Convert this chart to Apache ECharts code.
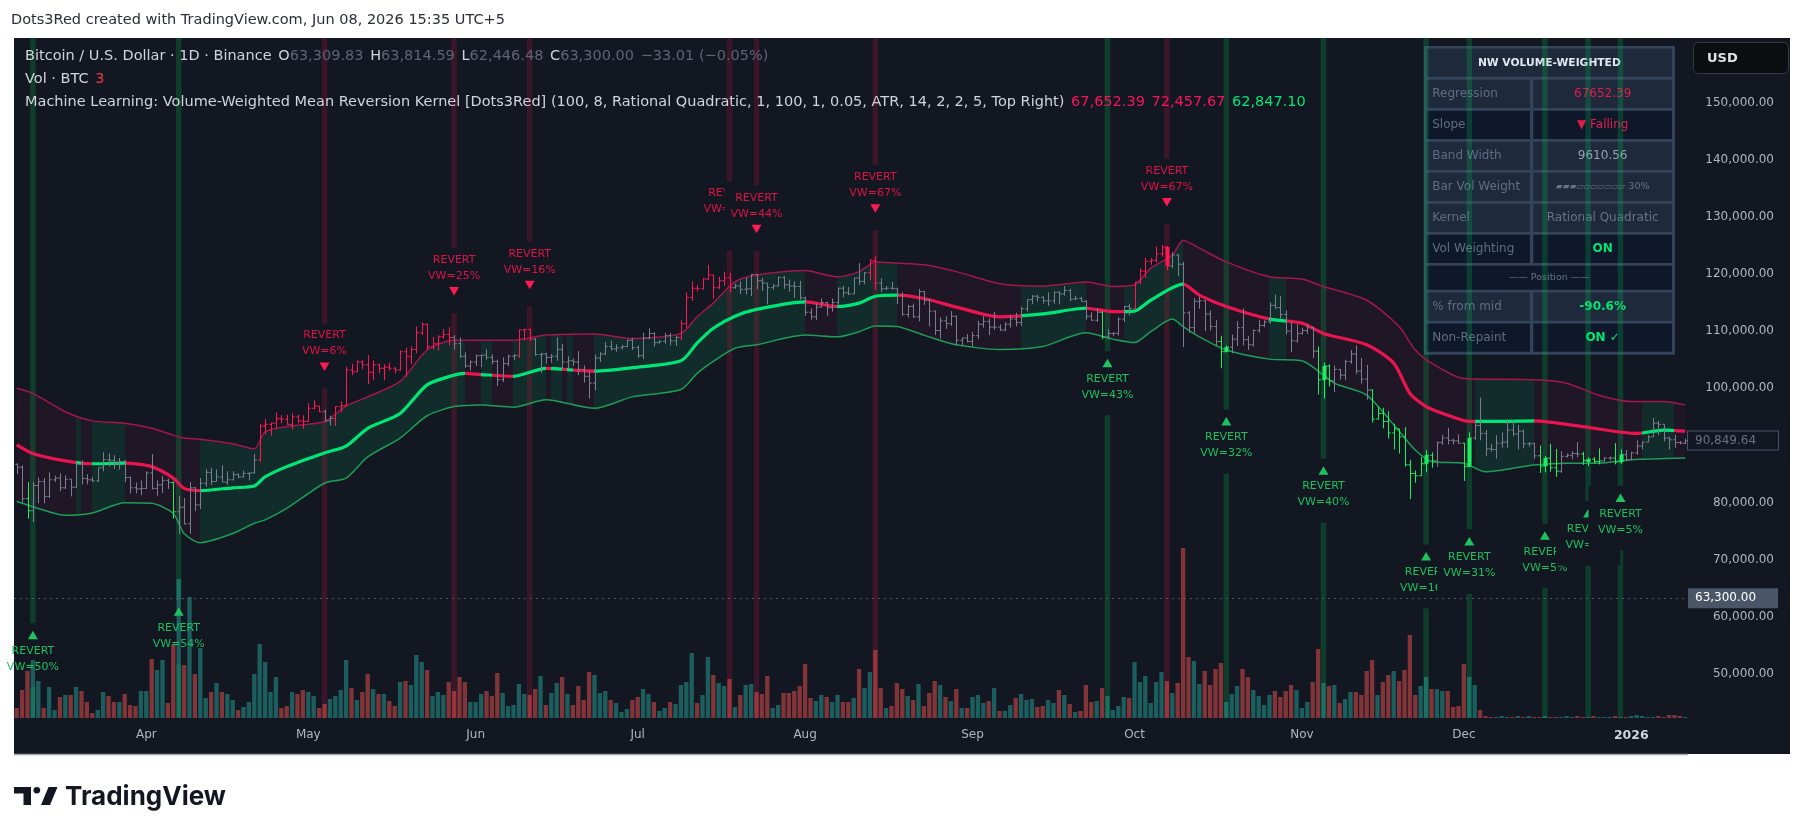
<!DOCTYPE html>
<html><head><meta charset="utf-8">
<script src="https://cdn.jsdelivr.net/npm/echarts@6/dist/echarts.min.js"></script>
<style>
html,body{margin:0;padding:0;background:#ffffff;overflow:hidden;}
#panel{position:absolute;left:14px;top:38px;width:1776px;height:716px;background:#131722;}
#chart{position:absolute;left:0;top:0;width:1804px;height:836px;}
</style></head><body>
<div id="panel"></div><div id="chart"></div>
<script>
// ---------------- DATA (prices in thousands of USD) ----------------
const ohlc = [
[86.7,86.9,85.0,86.2],[86.2,86.5,80.0,80.7],[80.7,83.6,77.2,78.6],[78.6,83.6,76.6,83.0],[83.0,84.4,79.9,83.7],
[83.7,84.3,79.9,81.1],[81.1,85.3,80.8,84.0],[84.0,84.7,83.6,84.3],[84.3,85.1,82.0,82.6],[82.6,84.8,82.4,84.1],
[84.1,84.1,81.1,82.7],[82.7,87.0,82.6,86.8],[86.8,87.4,83.2,84.2],[84.2,85.0,83.2,84.0],[84.0,84.5,83.6,83.8],
[83.8,86.1,83.6,86.1],[86.1,88.8,85.5,87.5],[87.5,88.6,86.3,87.4],[87.4,88.3,85.9,86.9],[86.9,87.8,85.8,87.2],
[87.2,87.5,83.6,84.4],[84.4,84.6,81.6,82.6],[82.6,83.5,81.6,82.4],[82.4,83.9,81.3,82.5],
[82.5,85.5,82.4,85.2],[85.2,88.5,82.3,82.5],[82.5,83.9,81.2,83.1],[83.1,84.7,81.7,83.9],[83.9,84.2,82.4,83.5],
[83.5,83.7,77.2,78.4],[78.4,81.2,74.5,79.2],[79.2,80.8,76.2,76.3],[76.3,83.6,74.6,82.6],[82.6,82.7,78.5,79.6],
[79.6,84.3,78.9,83.4],[83.4,85.9,82.8,85.3],[85.3,86.1,83.1,83.7],[83.7,85.8,83.7,84.5],[84.5,86.5,83.6,83.6],
[83.6,85.5,83.1,84.0],[84.0,85.5,83.9,84.9],[84.9,85.1,84.3,84.5],[84.5,85.6,84.4,85.1],[85.1,85.3,83.9,85.2],
[85.2,88.5,85.1,87.5],[87.5,93.8,87.1,93.4],[93.4,94.7,91.9,93.7],[93.7,94.0,91.7,93.9],[93.9,95.8,92.9,94.7],
[94.7,95.3,93.9,94.6],[94.6,95.4,93.6,93.7],[93.7,95.6,92.8,95.0],[95.0,95.4,93.9,94.3],[94.3,95.3,92.9,94.2],
[94.2,97.4,94.1,96.5],[96.5,97.9,96.3,96.9],[96.9,96.9,95.8,95.9],[95.9,96.3,94.1,94.3],[94.3,95.2,93.5,94.7],
[94.7,96.9,93.4,96.8],[96.8,97.7,95.8,97.0],[97.0,103.8,96.9,103.2],[103.2,104.3,102.3,102.9],[102.9,104.9,102.8,104.6],
[104.6,104.9,103.3,104.1],[104.1,105.8,100.7,102.8],[102.8,104.9,101.4,104.1],[104.1,104.3,102.6,103.5],[103.5,104.2,101.4,103.7],
[103.7,104.5,103.1,103.5],[103.5,103.7,102.6,103.2],[103.2,106.6,103.1,106.4],[106.4,107.1,102.0,105.6],[105.6,107.3,104.2,106.8],
[106.8,110.8,106.1,109.7],[109.7,111.5,109.3,111.2],[111.2,111.3,106.7,107.3],[107.3,109.0,106.8,107.8],[107.8,109.3,106.6,109.0],
[109.0,110.4,108.7,109.4],[109.4,110.7,107.5,108.9],[108.9,109.3,106.8,107.8],[107.8,108.9,105.3,105.6],[105.6,106.3,103.6,103.9],
[103.9,104.9,103.1,104.6],
[104.6,105.9,103.9,105.7],[105.7,105.9,103.7,105.8],[105.8,106.8,105.0,105.4],[105.4,105.9,104.2,104.7],[104.7,105.0,100.4,101.5],
[101.5,105.4,101.1,104.3],[104.3,105.9,103.9,105.6],[105.6,106.0,104.9,105.7],[105.7,110.3,105.3,110.2],[110.2,110.4,108.4,110.3],
[110.3,110.4,108.3,108.6],[108.6,108.8,105.7,105.9],[105.9,106.2,102.7,106.0],[106.0,106.2,104.3,105.4],[105.4,106.0,104.5,105.6],
[105.6,108.9,104.8,106.8],[106.8,107.8,103.4,104.6],[104.6,105.6,103.5,104.8],[104.8,105.2,103.9,104.6],[104.6,106.5,102.3,103.3],
[103.3,104.0,101.0,102.1],[102.1,103.0,98.2,100.9],[100.9,105.9,99.6,105.3],[105.3,106.3,104.6,106.0],[106.0,108.1,105.8,107.3],
[107.3,108.3,106.6,106.9],[106.9,107.7,106.4,107.1],[107.1,107.6,106.8,107.3],[107.3,108.5,107.2,108.4],[108.4,108.8,106.7,107.1],
[107.1,107.5,105.3,105.7],[105.7,109.7,105.1,108.8],[108.8,110.5,108.6,109.6],[109.6,109.8,107.3,108.0],[108.0,108.4,107.8,108.2],
[108.2,109.7,107.8,109.2],[109.2,109.7,107.5,108.3],[108.3,109.2,107.4,108.9],[108.9,111.9,108.4,111.3],[111.3,116.8,110.6,115.9],
[115.9,118.7,115.3,117.5],[117.5,118.0,116.9,117.4],[117.4,119.3,117.3,119.1],[119.1,121.6,118.9,119.8],[119.8,119.9,115.7,117.6],
[117.6,119.5,117.3,118.8],[118.8,120.4,117.9,119.3],[119.3,120.2,116.8,117.6],[117.6,118.3,117.4,117.9],[117.9,118.7,116.5,117.3],
[117.3,119.4,116.4,117.4],[117.4,120.0,116.1,119.9],[119.9,120.0,117.3,118.8],[118.8,119.3,117.0,118.4],[118.4,118.4,114.7,117.6],
[117.6,118.2,117.2,117.9],[117.9,119.5,117.8,119.4],[119.4,119.6,117.4,118.1],[118.1,119.0,116.9,117.9],[117.9,118.7,115.8,117.8],
[117.8,118.8,115.5,115.8],
[115.8,116.0,112.7,113.3],[113.3,114.0,112.0,112.5],[112.5,114.8,111.9,114.2],[114.2,115.7,114.1,115.0],[115.0,115.1,112.7,114.1],
[114.1,115.7,113.4,115.0],[115.0,117.6,114.3,117.5],[117.5,117.9,115.9,116.7],[116.7,117.7,116.3,116.5],[116.5,119.3,116.5,119.3],
[119.3,121.9,118.1,118.7],[118.7,120.3,118.2,120.2],[120.2,122.6,118.9,122.3],[122.3,123.1,117.2,118.4],[118.4,119.2,116.8,117.4],
[117.4,117.9,117.2,117.5],[117.5,118.6,117.3,117.4],[117.4,117.6,114.7,116.3],[116.3,116.8,112.7,112.9],[112.9,114.6,112.4,114.3],
[114.3,114.8,112.3,112.5],[112.5,117.4,111.7,116.9],[116.9,117.0,114.6,115.4],[115.4,115.7,110.8,113.5],[113.5,113.6,109.3,110.1],
[110.1,112.4,108.7,111.8],[111.8,112.6,110.4,111.3],[111.3,113.5,110.9,112.6],[112.6,112.7,107.5,108.4],[108.4,108.9,107.4,108.8],
[108.8,109.5,108.0,108.2],
[108.2,109.9,107.3,109.2],[109.2,111.8,108.6,111.2],[111.2,112.6,110.6,111.7],[111.7,112.2,109.3,110.7],[110.7,113.4,110.2,110.7],
[110.7,111.2,110.0,110.2],[110.2,111.6,110.0,111.2],[111.2,112.9,110.6,112.1],[112.1,113.2,110.8,111.5],[111.5,114.3,110.9,113.9],
[113.9,115.5,113.4,115.5],[115.5,116.3,114.7,116.1],[116.1,116.4,115.2,115.9],[115.9,116.1,114.8,115.3],[115.3,116.8,114.4,115.3],
[115.3,116.9,114.8,116.8],[116.8,117.0,114.7,116.5],[116.5,117.9,116.2,117.1],[117.1,117.4,115.2,115.6],[115.6,116.2,115.4,115.7],
[115.7,116.0,115.2,115.2],[115.2,115.4,112.0,112.6],[112.6,113.3,111.8,111.9],[111.9,113.9,111.6,113.3],[113.3,113.4,108.6,109.0],
[109.0,110.3,108.6,109.6],[109.6,109.8,109.1,109.6],[109.6,112.4,109.2,112.1],[112.1,114.4,111.6,114.3],[114.3,114.8,112.7,114.0],
[114.0,118.6,113.8,118.6],[118.6,121.0,118.2,120.5],[120.5,122.8,119.3,122.2],[122.2,122.8,121.6,122.4],[122.4,124.8,122.0,123.5],
[123.5,125.1,123.0,124.7],[124.7,124.9,120.6,121.4],[121.4,123.8,121.0,123.3],[123.3,123.5,119.6,121.7],[121.7,122.1,107.2,113.2],
[113.2,113.5,109.7,110.6],[110.6,115.8,109.6,115.2],[115.2,116.0,113.9,115.3],[115.3,115.4,110.0,113.0],[113.0,113.6,110.1,110.8],
[110.8,111.9,107.5,108.2],[108.2,109.2,103.5,106.4],[106.4,107.5,106.3,107.2],[107.2,109.4,106.1,108.6],[108.6,111.7,107.4,110.6],
[110.6,114.0,107.5,108.5],[108.5,109.1,106.7,107.6],[107.6,110.3,107.3,110.1],[110.1,112.0,109.7,111.0],[111.0,111.9,110.7,111.6],
[111.6,115.0,111.3,114.5],[114.5,116.4,113.9,114.1],[114.1,116.1,112.2,112.9],[112.9,113.6,109.4,110.0],[110.0,111.6,106.3,108.3],
[108.3,111.2,108.0,109.6],
[109.6,110.6,109.4,110.1],[110.1,111.2,109.5,110.6],[110.6,110.8,105.3,106.5],[106.5,107.3,98.9,101.5],[101.5,104.5,98.2,103.9],
[103.9,104.2,100.3,101.3],[101.3,104.0,99.3,103.3],[103.3,103.4,101.5,102.3],[102.3,105.0,101.4,104.7],[104.7,106.7,104.3,106.0],
[106.0,107.5,102.5,103.0],[103.0,105.3,100.8,101.6],[101.6,104.1,98.0,99.7],[99.7,99.8,94.0,94.6],[94.6,96.8,94.6,95.6],
[95.6,96.6,93.0,94.2],[94.2,96.0,91.2,92.2],[92.2,93.8,89.3,92.9],[92.9,92.9,88.6,91.5],[91.5,93.2,86.3,86.6],
[86.6,87.5,80.6,85.1],[85.1,85.6,83.5,84.7],[84.7,88.0,84.7,86.8],[86.8,89.2,85.3,88.3],[88.3,88.8,86.1,87.3],
[87.3,90.7,86.3,90.5],[90.5,91.9,90.1,91.3],[91.3,93.1,90.2,90.9],[90.9,91.2,90.2,90.8],[90.8,92.0,90.3,90.4],
[90.4,90.4,83.8,86.3],[86.3,92.3,86.2,91.3],[91.3,94.2,91.0,93.5],[93.5,98.4,90.9,92.1],[92.1,92.7,88.1,89.4],
[89.4,90.3,88.9,89.3],[89.3,91.8,87.7,90.4],[90.4,92.3,89.6,90.6],[90.6,94.6,89.6,92.7],[92.7,94.5,91.6,92.0],
[92.0,93.6,89.3,92.5],[92.5,92.8,89.5,90.3],[90.3,90.6,89.8,90.3],[90.3,90.5,87.6,88.2],[88.2,90.0,85.2,86.4],
[86.4,88.2,85.3,87.8],[87.8,90.3,85.4,86.1],[86.1,89.4,84.5,85.5],[85.5,89.0,85.2,88.1],[88.1,88.6,87.9,88.3],
[88.3,89.0,87.6,88.6],[88.6,90.6,87.9,88.5],[88.5,88.9,86.6,87.4],[87.4,87.9,86.4,87.6],[87.6,88.0,86.9,87.2],
[87.2,89.5,86.7,87.3],[87.3,88.0,87.2,87.8],[87.8,88.1,87.4,87.8],[87.8,90.4,86.7,87.1],[87.1,89.3,86.8,88.4],
[88.4,89.2,87.2,87.5],
[87.5,88.9,87.5,88.7],[88.7,90.9,88.4,89.9],[89.9,90.7,89.3,90.6],[90.6,91.8,90.6,91.5],[91.5,94.8,91.5,93.9],
[93.9,94.3,91.8,93.7],[93.7,93.7,90.7,91.3],[91.3,91.5,89.3,91.0],[91.0,91.9,89.6,90.5],[90.5,90.8,90.2,90.4],
[90.4,91.2,90.2,90.8]
];
const volumes = [
10,28,47,58,37,10,31,8,21,23,23,31,27,16,5,8,26,22,16,16,24,13,12,27,27,59,48,58,15,73,139,
53,121,44,70,20,26,35,26,24,18,8,11,16,44,74,56,26,41,10,12,26,24,28,26,22,10,14,19,22,28,58,30,18,26,44,29,24,24,17,12,36,37,33,63,56,48,22,26,23,36,27,41,36,16,16,24,27,22,45,
25,12,13,34,24,23,29,42,13,25,35,41,24,13,32,18,46,43,25,27,18,15,6,9,18,21,29,24,16,7,10,16,14,33,36,65,15,23,61,43,35,32,39,11,23,33,34,26,24,42,10,13,25,25,27,32,54,20,17,23,21,16,23,16,16,20,49,30,46,68,30,10,12,35,
29,22,18,34,12,25,37,33,21,17,29,10,10,21,23,15,17,30,7,7,13,20,24,18,19,11,12,18,15,28,23,14,6,7,33,16,17,30,22,8,12,21,20,56,36,42,15,36,46,37,25,35,170,61,57,34,47,33,49,55,16,24,32,49,41,28,22,13,23,27,21,27,33,28,10,16,36,69,
35,32,33,15,19,26,26,23,47,58,23,36,43,47,37,48,83,23,32,41,29,29,27,27,11,12,54,41,33,8,
2,1,1,2,1,1,2,1,2,1,1,2,1,1,1,2,1,2,1,1,2,1,1,1,2,1,1,2,3,2,1,1,2,1,3,3,2,1
];
const midPts = [[0,90.1],[3,88.6],[9,87.3],[14,86.8],[20,86.9],[25,86.3],[29,84.3],[31,82.5],[34,82.1],[40,82.6],[44,82.9],[46,84.5],[50,86.3],[57,88.7],[61,89.9],[65,93.0],[71,95.6],[76,100.6],[81,102.3],[83,102.6],[86,102.4],[92,102.1],[98,103.5],[103,103.2],[107,103.0],[114,103.6],[123,104.8],[126,107.9],[129,110.5],[133,112.6],[137,113.8],[146,115.1],[152,114.3],[156,114.9],[159,116.1],[163,116.3],[168,115.7],[174,114.2],[182,112.5],[190,113.0],[198,114.0],[203,113.4],[207,113.5],[210,115.4],[216,118.2],[219,116.3],[224,114.3],[232,112.1],[238,111.4],[242,109.6],[250,107.6],[255,104.4],[258,99.1],[261,96.8],[265,95.3],[269,94.2],[275,94.2],[281,94.3],[290,93.3],[300,92.1],[305,92.7],[309,92.5]];
const upPts = [[0,100.0],[3,99.1],[9,95.9],[14,94.3],[20,93.9],[25,93.0],[29,91.8],[31,91.3],[34,91.1],[40,90.3],[44,89.4],[46,92.4],[50,93.3],[57,94.2],[61,96.9],[65,98.5],[71,101.2],[76,106.7],[81,108.4],[86,108.4],[92,108.4],[98,109.3],[107,109.5],[114,108.7],[123,109.6],[126,112.5],[129,114.9],[133,118.6],[137,119.8],[146,120.6],[152,119.5],[156,120.4],[159,122.1],[163,121.9],[168,121.6],[174,120.4],[182,118.3],[190,117.9],[198,118.6],[203,117.8],[207,118.1],[210,121.0],[214,123.3],[216,125.9],[219,124.5],[224,122.1],[232,119.5],[238,119.1],[242,117.8],[250,115.4],[256,110.8],[259,106.7],[262,104.4],[268,101.7],[281,101.5],[287,100.9],[293,98.8],[299,97.7],[305,97.7],[309,97.1]];
const loPts = [[0,80.2],[3,79.3],[9,77.8],[14,78.2],[20,80.0],[25,79.9],[29,78.1],[31,74.6],[34,73.0],[40,74.6],[44,76.4],[46,77.0],[50,79.0],[57,83.4],[61,84.3],[65,88.0],[71,91.3],[76,95.2],[81,96.8],[86,97.1],[92,96.7],[98,98.0],[107,96.5],[114,98.5],[123,99.8],[126,102.6],[129,104.7],[133,107.0],[137,107.6],[146,109.3],[152,109.0],[156,109.9],[159,110.9],[163,110.8],[168,109.3],[174,107.6],[182,106.8],[190,107.3],[198,109.7],[203,108.6],[207,108.0],[210,109.9],[214,112.1],[216,110.8],[219,109.0],[224,106.7],[232,105.1],[238,104.8],[244,100.9],[250,98.8],[256,92.5],[259,89.2],[262,87.2],[268,86.9],[272,85.4],[281,86.6],[287,86.9],[293,86.9],[299,87.5],[309,87.8]];
// bar-index ranges where the kernel slope is rising (everything else falling)
const riseSegs = [[11.1,12.3],[14.2,20.3],[34.1,83.0],[86.1,88.3],[92.0,98.2],[99.1,101.3],[102.2,103.1],[107.1,146.0],[152.2,163.0],[186.1,198.0],[204.9,215.9],[232.0,234.9],[269.7,280.8],[300.5,306.7]];
const redZones = [[45,56],[59,80],[93,95],[123,132],[158,159],[207,213]];
const greenZones = [[2,2],[29,29],[201,201],[223,224],[241,243],[251,262],[268,269],[282,285],[290,293],[296,297]];
const thickBars = [213,224,242,261,269,283,291,297];
// [bar index, label anchor price (k), VW %]
const greenSignals = [[3,56.8,50],[30,60.9,54],[202,104.4,43],[224,94.2,32],[242,85.6,40],[261,70.6,16],[269,73.2,31],[283,74.2,5],[291,78.1,5],[297,80.8,5]];
const redSignals = [[57,103.8,6],[81,117.0,25],[95,118.1,16],[132,128.7,38],[137,127.9,44],[159,131.5,67],[213,132.6,67]];
const priceTicks = [50,60,70,80,90,100,110,120,130,140,150];
const lastPrice = 63.3;
const lastVisibleClose = 90.84964;
const monthNames = ['Jan','Feb','Mar','Apr','May','Jun','Jul','Aug','Sep','Oct','Nov','Dec'];
const startDay = Date.UTC(2025, 2, 8);
const dates = ohlc.map((_, i) => new Date(startDay + i * 86400000).toISOString().slice(0, 10));

const tableTitle = 'NW VOLUME-WEIGHTED';
const tableRows = [
  ['Regression', '67652.39', '#e11d48', false, 'l'],
  ['Slope', '\u25BC Falling', '#e11d48', false, 'd'],
  ['Band Width', '9610.56', '#94a3b8', false, 'l'],
  ['Bar Vol Weight', 'BAR', '#64748b', false, 'l'],
  ['Kernel', 'Rational Quadratic', '#64748b', false, 'l'],
  ['Vol Weighting', 'ON', '#00e676', true, 'd'],
  ['\u2014\u2014 Position \u2014\u2014', null, '#64748b', false, 'd'],
  ['% from mid', '-90.6%', '#00e676', true, 'l'],
  ['Non-Repaint', 'ON \u2713', '#00e676', true, 'd']
];
const volBarBlocks = '\u25B0\u25B0\u25B0\u25B1\u25B1\u25B1\u25B1\u25B1\u25B1\u25B1';
const volBarPct = '30%';

// ---------------- STYLE ----------------
const BG = '#131722';
const UF = "'DejaVu Sans',sans-serif";
const AF = "'DejaVu Sans',sans-serif";
const GRAY = '#7a7e8e', RED = '#ff1652', GREEN = '#18f060';
const FILL_RISE = '#112c2a', FILL_FALL = '#1f1626';
const MID_RISE = '#00e676', MID_FALL = '#e91550';

function zoneColor(i) {
  for (const [a, b] of redZones) if (i >= a && i <= b) return RED;
  for (const [a, b] of greenZones) if (i >= a && i <= b) return GREEN;
  return GRAY;
}
function pieces(rise, fall) {
  const out = []; let prev = null;
  riseSegs.forEach(([a, b]) => {
    out.push(prev === null ? { lt: a, color: fall } : { gte: prev, lt: a, color: fall });
    out.push({ gte: a, lt: b, color: rise });
    prev = b;
  });
  out.push({ gte: prev, color: fall });
  return out;
}

const chart = echarts.init(document.getElementById('chart'), null, { renderer: 'canvas' });

function renderCandle(params, api) {
  const i = api.value(0);
  const pO = api.coord([i, api.value(1)]), pH = api.coord([i, api.value(2)]);
  const pL = api.coord([i, api.value(3)]), pC = api.coord([i, api.value(4)]);
  const w = api.size([1, 0])[0];
  const x = Math.round(pH[0]) + 0.5;
  const t = Math.max(2, w * 0.42);
  const color = zoneColor(i);
  const ls = { stroke: color, lineWidth: 1 };
  const ch = [
    { type: 'line', shape: { x1: x, y1: pH[1], x2: x, y2: pL[1] }, style: ls },
    { type: 'line', shape: { x1: x - t, y1: pO[1], x2: x, y2: pO[1] }, style: ls },
    { type: 'line', shape: { x1: x, y1: pC[1], x2: x + t, y2: pC[1] }, style: ls }
  ];
  if (thickBars.indexOf(i) >= 0) {
    const y0 = Math.min(pO[1], pC[1]);
    ch.push({ type: 'rect', shape: { x: x - 2, y: y0, width: 4, height: Math.max(3, Math.abs(pO[1] - pC[1])) }, style: { fill: color } });
  }
  return { type: 'group', children: ch };
}
function stripeRenderer(kind) {
  return function (params, api) {
    const i = api.value(0), p = api.value(1);
    const cs = params.coordSys;
    const pt = api.coord([i, p]);
    const w = api.size([1, 0])[0];
    const top = cs.y, bot = cs.y + cs.height;
    const g0 = kind === 'g' ? pt[1] - 12 : pt[1] - 43;
    const g1 = kind === 'g' ? pt[1] + 52 : pt[1] + 22;
    const fill = kind === 'g' ? 'rgba(0,200,83,0.22)' : 'rgba(220,20,70,0.2)';
    const x = pt[0] - w / 2;
    return { type: 'group', children: [
      { type: 'rect', shape: { x: x, y: top, width: w, height: Math.max(0, g0 - top) }, style: { fill: fill } },
      { type: 'rect', shape: { x: x, y: g1, width: w, height: Math.max(0, bot - g1) }, style: { fill: fill } }
    ] };
  };
}
function txt(s, x, y, color) {
  return { type: 'text', style: { text: s, x: x, y: y, fill: color, font: '11px ' + UF, align: 'center', verticalAlign: 'middle' } };
}
function labelRenderer(kind, list) {
  return function (params, api) {
    const k = params.dataIndex;
    const i = api.value(0), p = api.value(1), pct = api.value(2);
    const pt = api.coord([i, p]);
    const cx = pt[0], y = pt[1];
    const ch = [];
    const prev = k > 0 ? list[k - 1][0] : -999;
    if (i - prev < 12) {
      ch.push({ type: 'rect', shape: kind === 'g' ? { x: cx - 32, y: y - 12, width: 64, height: 64 } : { x: cx - 32, y: y - 43, width: 64, height: 65 }, style: { fill: BG } });
    }
    if (kind === 'g') {
      const c = '#1fbf5c';
      ch.push({ type: 'polygon', shape: { points: [[cx - 5, y + 4], [cx + 5, y + 4], [cx, y - 4.5]] }, style: { fill: '#1fc35e' } });
      ch.push(txt('REVERT', cx, y + 16, c));
      ch.push(txt('VW=' + pct + '%', cx, y + 32, c));
    } else {
      const c = '#dc1446';
      ch.push({ type: 'polygon', shape: { points: [[cx - 5, y - 4], [cx + 5, y - 4], [cx, y + 4.5]] }, style: { fill: '#ff1a55' } });
      ch.push(txt('REVERT', cx, y - 31, c));
      ch.push(txt('VW=' + pct + '%', cx, y - 15, c));
    }
    return { type: 'group', children: ch };
  };
}
function fmtPrice(v) {
  return (v * 1000).toLocaleString('en-US', { minimumFractionDigits: 2, maximumFractionDigits: 2 });
}

// ---------------- GRAPHICS (header, table, logo) ----------------
const graphics = [];
graphics.push({ type: 'text', x: 11, y: 20.5, z: 10, style: { text: 'Dots3Red created with TradingView.com, Jun 08, 2026 15:35 UTC+5', fill: '#2a2e39', font: '14.5px ' + UF, verticalAlign: 'middle' } });
const HS = 14.5;
const hdrRich = {
  a: { fill: '#d1d4dc', fontSize: HS, fontFamily: UF },
  v: { fill: '#5f6575', fontSize: HS, fontFamily: UF },
  r: { fill: '#f23645', fontSize: HS, fontFamily: UF },
  k: { fill: '#f7155a', fontSize: HS, fontFamily: UF },
  g: { fill: '#00e676', fontSize: HS, fontFamily: UF }
};
graphics.push({ type: 'text', x: 25, y: 56, z: 10, style: { text: '{a|Bitcoin / U.S. Dollar \u00B7 1D \u00B7 Binance}  {a|O}{v|63,309.83}  {a|H}{v|63,814.59}  {a|L}{v|62,446.48}  {a|C}{v|63,300.00}  {v|\u221233.01 (\u22120.05%)}', rich: hdrRich, verticalAlign: 'middle' } });
graphics.push({ type: 'text', x: 25, y: 79.5, z: 10, style: { text: '{a|Vol \u00B7 BTC}  {r|3}', rich: hdrRich, verticalAlign: 'middle' } });
graphics.push({ type: 'text', x: 25, y: 102.5, z: 10, style: { text: '{a|Machine Learning: Volume-Weighted Mean Reversion Kernel [Dots3Red] (100, 8, Rational Quadratic, 1, 100, 1, 0.05, ATR, 14, 2, 2, 5, Top Right)}  {k|67,652.39}  {k|72,457.67}  {g|62,847.10}', rich: hdrRich, verticalAlign: 'middle' } });

// table
const TX = 1424, TY = 46, TW = 251;
const LX = 1426.7, LW = 103.3, RX = 1533.3, RW = 138.7;
const tbl = [];
let yy = 48.5;
tbl.push({ type: 'rect', shape: { x: LX, y: yy, width: RX + RW - LX, height: 28.3 }, style: { fill: '#1e293b' } });
tbl.push({ type: 'text', style: { text: tableTitle, x: (LX + RX + RW) / 2, y: yy + 14.5, fill: '#e2e8f0', font: 'bold 10.7px ' + UF, align: 'center', verticalAlign: 'middle' } });
yy += 28.3 + 3;
tableRows.forEach(function (r) {
  const fill = r[4] === 'l' ? '#1e293b' : '#0f172a';
  if (r[1] === null) {
    const h = 24;
    tbl.push({ type: 'rect', shape: { x: LX, y: yy, width: RX + RW - LX, height: h }, style: { fill: fill } });
    tbl.push({ type: 'text', style: { text: r[0], x: (LX + RX + RW) / 2, y: yy + h / 2, fill: r[2], font: '9.5px ' + UF, align: 'center', verticalAlign: 'middle' } });
    yy += h + 2.7;
    return;
  }
  const h = 28.3;
  tbl.push({ type: 'rect', shape: { x: LX, y: yy, width: LW, height: h }, style: { fill: fill } });
  tbl.push({ type: 'rect', shape: { x: RX, y: yy, width: RW, height: h }, style: { fill: fill } });
  tbl.push({ type: 'text', style: { text: r[0], x: LX + 5.5, y: yy + h / 2, fill: '#5f6e85', font: '12px ' + UF, verticalAlign: 'middle' } });
  if (r[1] === 'BAR') {
    tbl.push({ type: 'text', style: { text: '{b|' + volBarBlocks + '} {p|' + volBarPct + '}', x: RX + RW / 2, y: yy + h / 2, align: 'center', verticalAlign: 'middle',
      rich: { b: { fill: '#64748b', fontSize: 9, fontFamily: AF }, p: { fill: '#64748b', fontSize: 9.5, fontFamily: UF } } } });
  } else {
    tbl.push({ type: 'text', style: { text: r[1], x: RX + RW / 2, y: yy + h / 2, fill: r[2], font: (r[3] ? 'bold ' : '') + '12px ' + UF, align: 'center', verticalAlign: 'middle' } });
  }
  yy += h + 2.7;
});
graphics.push({ type: 'group', z: 20, children: [{ type: 'rect', shape: { x: TX, y: TY, width: TW, height: yy - TY + 0.3 }, style: { fill: '#33435a' } }].concat(tbl) });

// USD box
graphics.push({ type: 'group', z: 20, children: [
  { type: 'rect', shape: { x: 1693.5, y: 42.5, width: 95, height: 31, r: 5 }, style: { fill: '#0c0d10', stroke: '#363a45', lineWidth: 1 } },
  { type: 'text', style: { text: 'USD', x: 1707, y: 58.5, fill: '#e0e3eb', font: 'bold 13px ' + AF, verticalAlign: 'middle' } }
] });
// bottom border line
graphics.push({ type: 'line', z: 5, shape: { x1: 14, y1: 754.5, x2: 1688, y2: 754.5 }, style: { stroke: '#a3a6af', lineWidth: 1.5 } });
// TradingView logo
graphics.push({ type: 'group', z: 20, children: [
  { type: 'rect', shape: { x: 14, y: 787, width: 17, height: 6.5 }, style: { fill: '#131722' } },
  { type: 'rect', shape: { x: 23.5, y: 787, width: 7.5, height: 18 }, style: { fill: '#131722' } },
  { type: 'circle', shape: { cx: 36.8, cy: 790.3, r: 3.3 }, style: { fill: '#131722' } },
  { type: 'polygon', shape: { points: [[41, 805], [48.5, 787], [57.5, 787], [50, 805]] }, style: { fill: '#131722' } },
  { type: 'text', style: { text: 'TradingView', x: 65, y: 797, fill: '#131722', font: 'bold 26px Inter, sans-serif', verticalAlign: 'middle' } }
] });

// ---------------- OPTION ----------------
const option = {
  animation: false,
  backgroundColor: 'transparent',
  grid: { left: 14, top: 38, width: 1674, height: 680, containLabel: false, outerBoundsMode: 'none' },
  xAxis: {
    type: 'category', data: dates, boundaryGap: true,
    axisLine: { show: false }, axisTick: { show: false }, splitLine: { show: false },
    axisLabel: {
      margin: 11, color: '#b2b5be', fontSize: 12, fontFamily: UF,
      interval: function (idx, val) { return val.slice(8) === '01'; },
      formatter: function (val) {
        const m = +val.slice(5, 7);
        return m === 1 ? '{y|' + val.slice(0, 4) + '}' : monthNames[m - 1];
      },
      rich: { y: { fontWeight: 'bold', color: '#d1d4dc', fontSize: 12.5, fontFamily: UF } }
    }
  },
  yAxis: [
    { type: 'value', position: 'right', min: 42.34, max: 161.26, scale: true,
      axisLine: { show: false }, axisTick: { show: false }, splitLine: { show: false },
      axisLabel: { customValues: priceTicks, formatter: fmtPrice, color: '#b2b5be', fontSize: 12, fontFamily: AF, align: 'right', margin: 86 } },
    { type: 'value', min: 0, max: 680, show: false }
  ],
  visualMap: [
    { type: 'piecewise', show: false, dimension: 0, seriesIndex: 0, pieces: pieces(FILL_RISE, FILL_FALL) },
    { type: 'piecewise', show: false, dimension: 0, seriesIndex: 4, pieces: pieces(MID_RISE, MID_FALL) }
  ],
  graphic: graphics,
  series: [
    { type: 'line', name: 'bandFill', data: upPts, smooth: 0.25, symbol: 'none', showSymbol: false, silent: true, z: 1,
      lineStyle: { width: 0, opacity: 0 }, areaStyle: { origin: 'start', opacity: 1 } },
    { type: 'line', name: 'mask', data: loPts, smooth: 0.25, symbol: 'none', showSymbol: false, silent: true, z: 2,
      lineStyle: { width: 0, opacity: 0 }, areaStyle: { origin: 'start', opacity: 1, color: BG } },
    { type: 'line', name: 'upper', data: upPts, smooth: 0.25, symbol: 'none', showSymbol: false, silent: true, z: 5,
      lineStyle: { width: 1.5, color: '#a3174b' } },
    { type: 'line', name: 'lower', data: loPts, smooth: 0.25, symbol: 'none', showSymbol: false, silent: true, z: 5,
      lineStyle: { width: 1.5, color: '#1d9d55' } },
    { type: 'line', name: 'mid', data: midPts, smooth: 0.25, symbol: 'none', showSymbol: false, silent: true, z: 5,
      lineStyle: { width: 3.2 } },
    { type: 'custom', name: 'stripesG', data: greenSignals, renderItem: stripeRenderer('g'), encode: { x: 0, y: 1 }, silent: true, z: 3 },
    { type: 'custom', name: 'stripesR', data: redSignals, renderItem: stripeRenderer('r'), encode: { x: 0, y: 1 }, silent: true, z: 3 },
    { type: 'bar', name: 'volume', xAxisIndex: 0, yAxisIndex: 1, barWidth: '80%', silent: true, z: 4,
      data: volumes.map(function (v, i) { return { value: v, itemStyle: { color: ohlc[i][3] >= ohlc[i][0] ? 'rgba(38,166,154,0.5)' : 'rgba(239,83,80,0.5)' } }; }) },
    { type: 'custom', name: 'bars', data: ohlc.map(function (r, i) { return [i, r[0], r[1], r[2], r[3]]; }), renderItem: renderCandle,
      encode: { x: 0, y: [1, 2, 3, 4] }, silent: true, z: 6,
      markLine: { silent: true, symbol: 'none', animation: false, precision: 5,
        data: [
          { yAxis: lastPrice, lineStyle: { color: '#4f5666', type: [2, 4], width: 1 },
            label: { show: true, position: 'end', distance: 0, formatter: function () { return fmtPrice(lastPrice); },
              backgroundColor: '#4b5568', color: '#ffffff', fontSize: 12, fontFamily: AF, padding: [4, 22, 4, 7], align: 'left' } },
          { yAxis: lastVisibleClose, lineStyle: { color: 'rgba(0,0,0,0)', width: 1 },
            label: { show: true, position: 'end', distance: 0, formatter: function () { return fmtPrice(lastVisibleClose); },
              backgroundColor: BG, borderColor: '#4b5568', borderWidth: 1, color: '#6b7080', fontSize: 12, fontFamily: AF, padding: [3, 22, 3, 7], align: 'left' } }
        ] } },
    { type: 'custom', name: 'labelsG', data: greenSignals, renderItem: labelRenderer('g', greenSignals), encode: { x: 0, y: 1 }, silent: true, z: 7 },
    { type: 'custom', name: 'labelsR', data: redSignals, renderItem: labelRenderer('r', redSignals), encode: { x: 0, y: 1 }, silent: true, z: 7 }
  ]
};
chart.setOption(option);
</script></body></html>
